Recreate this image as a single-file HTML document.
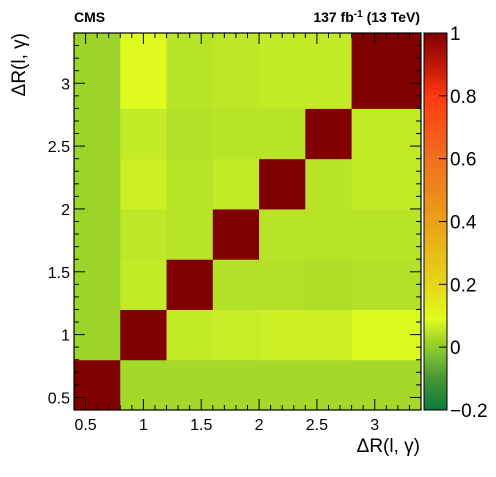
<!DOCTYPE html>
<html><head><meta charset="utf-8"><style>
body{margin:0;background:#fff}
svg text{font-family:"Liberation Sans",Arial,sans-serif}
</style></head><body>
<svg id="c" width="496" height="472" viewBox="0 0 496 472">
<text x="74" y="22" font-size="14" font-weight="bold">CMS</text>
<text x="420" y="22" font-size="14" font-weight="bold" text-anchor="end">137 fb<tspan dy="-5" font-size="10">-1</tspan><tspan dy="5"> (13 TeV)</tspan></text>
<g id="cells"></g>
<g id="cbar"></g>
<g id="axes"></g>
<text x="420" y="452" font-size="19" text-anchor="end">ΔR(l, γ)</text>
<text transform="translate(25,33) rotate(-90)" font-size="19" text-anchor="end">ΔR(l, γ)</text>
</svg>
<script>
const binEdges=[0.4,0.8,1.2,1.6,2.0,2.4,2.8,3.4];
// rows bottom -> top, columns left -> right
const row0=[1,0.03,0.03,0.03,0.03,0.03,0.03];
const row1=[0.02,1,0.06,0.065,0.07,0.07,0.085];
const row2=[0.02,0.06,1,0.045,0.045,0.04,0.045];
const row3=[0.02,0.055,0.05,1,0.05,0.05,0.05];
const row4=[0.02,0.07,0.05,0.06,1,0.05,0.06];
const row5=[0.02,0.06,0.045,0.05,0.05,1,0.06];
const row6=[0.02,0.09,0.05,0.055,0.06,0.06,1];
const rows=[row0,row1,row2,row3,row4,row5,row6];
const xTicks=[0.5,1,1.5,2,2.5,3];
const yTicks=[0.5,1,1.5,2,2.5,3];
const zTicks=[-0.2,0,0.2,0.4,0.6,0.8,1];
const zTickLabels=["−0.2","0","0.2","0.4","0.6","0.8","1"];

const L=74,R=421,T=33,B=410,CL=424,CR=447;
const sx=v=>L+(v-0.4)/3*(R-L);
const sy=v=>B-(v-0.4)/3*(B-T);
const sz=v=>B-(v+0.2)/1.2*(B-T);
const stops=[[-0.2,[10,120,58]],[-0.1,[70,150,55]],[0,[140,204,48]],[0.02,[156,212,42]],[0.05,[184,228,40]],[0.09,[224,252,30]],[0.2,[230,215,25]],[0.4,[234,160,24]],[0.6,[240,112,32]],[0.8,[255,58,16]],[0.9,[192,24,8]],[1,[128,0,0]]];
function col(v){for(let i=1;i<stops.length;i++){if(v<=stops[i][0]){const a=stops[i-1],b=stops[i],t=(v-a[0])/(b[0]-a[0]);return 'rgb('+a[1].map((c,k)=>Math.round(c+(b[1][k]-c)*t)).join(',')+')';}}return 'rgb(128,0,0)';}
const NS='http://www.w3.org/2000/svg';
function mk(tag,attrs,parent){const e=document.createElementNS(NS,tag);for(const k in attrs)e.setAttribute(k,attrs[k]);parent.appendChild(e);return e;}
const cells=document.getElementById('cells');
rows.forEach((r,j)=>r.forEach((v,i)=>{
 const x0=sx(binEdges[i]),x1=sx(binEdges[i+1]),y0=sy(binEdges[j+1]),y1=sy(binEdges[j]);
 const e=mk('rect',{x:x0,y:y0,width:x1-x0+0.5,height:y1-y0+0.5,fill:col(v)},cells);
 
 
}));
const cb=document.getElementById('cbar');
for(let p=T;p<B;p+=1){const v=1-(p-T)/(B-T)*1.2;const e=mk('rect',{x:CL,y:p,width:CR-CL,height:1.2,fill:col(v)},cb);
 
 }
mk('rect',{x:CL,y:T,width:CR-CL,height:B-T,fill:'none',stroke:'#000','stroke-width':1},cb);
zTicks.forEach((v,i)=>{const y=sz(v);mk('line',{x1:CR-8,x2:CR,y1:y,y2:y,stroke:'#000'},cb);
 const t=mk('text',{x:CR+3,y:y+7,'font-size':19},cb);t.textContent=zTickLabels[i];
 
 });
const ax=document.getElementById('axes');
mk('rect',{x:L,y:T,width:R-L,height:B-T,fill:'none',stroke:'#000','stroke-width':1.2},ax);
for(let k=5;k<=33;k++){const v=k/10;const major=k%5==0;const len=major?11:5;const x=sx(v),y=sy(v);
 mk('line',{x1:x,x2:x,y1:B,y2:B-len,stroke:'#000'},ax);mk('line',{x1:x,x2:x,y1:T,y2:T+len,stroke:'#000'},ax);
 mk('line',{x1:L,x2:L+len,y1:y,y2:y,stroke:'#000'},ax);mk('line',{x1:R,x2:R-len,y1:y,y2:y,stroke:'#000'},ax);}
xTicks.forEach(v=>{const t=mk('text',{x:sx(v),y:B+20,'font-size':16,'text-anchor':'middle'},ax);t.textContent=String(v);
 
 });
yTicks.forEach(v=>{const t=mk('text',{x:L-4,y:sy(v)+6,'font-size':16,'text-anchor':'end'},ax);t.textContent=String(v);
 
 });
</script>
</body></html>
